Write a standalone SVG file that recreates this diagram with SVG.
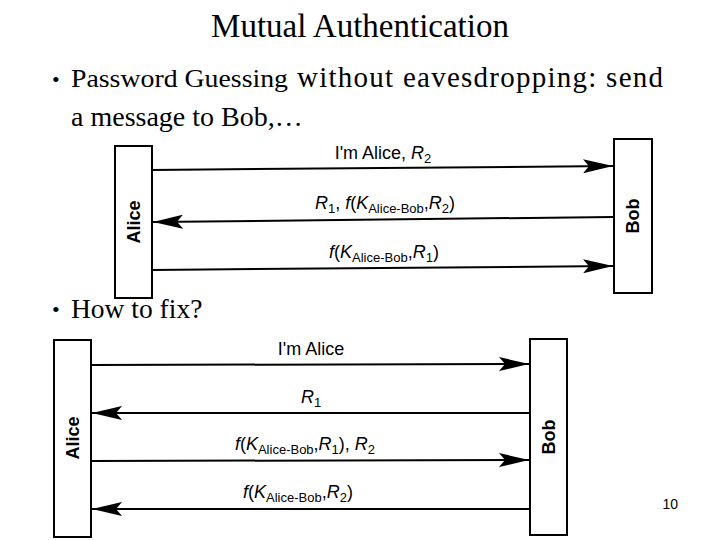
<svg xmlns="http://www.w3.org/2000/svg" width="720" height="540" viewBox="0 0 720 540">
<style>
.t{font-family:"Liberation Serif",serif;fill:#000}
.s{font-family:"Liberation Sans",Arial,sans-serif;fill:#000}
.box{fill:#fff;stroke:#000;stroke-width:2}
.ln{stroke:#000;stroke-width:2;fill:none}
</style>
<defs>
<marker id="ahb" markerWidth="30" markerHeight="14" refX="30" refY="7" orient="auto" markerUnits="userSpaceOnUse" viewBox="0 0 30 14">
<path d="M0,0 L30,7 L0,14 L6,7 Z" fill="#000"/>
</marker>
</defs>
<rect width="720" height="540" fill="#fff"/>
<text class="t" x="360" y="37" font-size="33" text-anchor="middle">Mutual Authentication</text>
<text class="t" x="52" y="87" font-size="22">•</text>
<text class="t" x="71" y="87" font-size="25" textLength="217" lengthAdjust="spacingAndGlyphs">Password Guessing</text>
<text class="t" x="297" y="87" font-size="29" textLength="366" lengthAdjust="spacing">without eavesdropping: send</text>
<text class="t" x="71" y="126" font-size="28">a message to Bob,…</text>
<text class="t" x="52" y="317" font-size="22">•</text>
<text class="t" x="71" y="318" font-size="27.5">How to fix?</text>
<text class="s" x="678" y="509" font-size="14" text-anchor="end">10</text>

<g id="connectors">
<line class="ln" x1="152" y1="170" x2="613" y2="166" marker-end="url(#ahb)"/>
<line class="ln" x1="613" y1="217" x2="153" y2="222" marker-end="url(#ahb)"/>
<line class="ln" x1="152" y1="270" x2="613" y2="266" marker-end="url(#ahb)"/>
<line class="ln" x1="91" y1="365" x2="529" y2="364" marker-end="url(#ahb)"/>
<line class="ln" x1="529" y1="413" x2="92" y2="413" marker-end="url(#ahb)"/>
<line class="ln" x1="91" y1="461" x2="529" y2="460" marker-end="url(#ahb)"/>
<line class="ln" x1="529" y1="509" x2="92" y2="509" marker-end="url(#ahb)"/>
</g>
<g id="labels" class="s" font-size="18" text-anchor="middle">
<text x="383" y="159">I'm Alice, <tspan font-style="italic">R</tspan><tspan font-size="13" dy="4">2</tspan></text>
<text x="385" y="209"><tspan font-style="italic">R</tspan><tspan font-size="13" dy="4">1</tspan><tspan dy="-4">, </tspan><tspan font-style="italic">f</tspan>(<tspan font-style="italic">K</tspan><tspan font-size="13" dy="4">Alice-Bob</tspan><tspan dy="-4">,</tspan><tspan font-style="italic">R</tspan><tspan font-size="13" dy="4">2</tspan><tspan dy="-4">)</tspan></text>
<text x="384" y="258"><tspan font-style="italic">f</tspan>(<tspan font-style="italic">K</tspan><tspan font-size="13" dy="4">Alice-Bob</tspan><tspan dy="-4">,</tspan><tspan font-style="italic">R</tspan><tspan font-size="13" dy="4">1</tspan><tspan dy="-4">)</tspan></text>
<text x="311" y="355">I'm Alice</text>
<text x="311" y="403"><tspan font-style="italic">R</tspan><tspan font-size="13" dy="4">1</tspan></text>
<text x="305" y="450"><tspan font-style="italic">f</tspan>(<tspan font-style="italic">K</tspan><tspan font-size="13" dy="4">Alice-Bob</tspan><tspan dy="-4">,</tspan><tspan font-style="italic">R</tspan><tspan font-size="13" dy="4">1</tspan><tspan dy="-4">), </tspan><tspan font-style="italic">R</tspan><tspan font-size="13" dy="4">2</tspan></text>
<text x="298" y="498"><tspan font-style="italic">f</tspan>(<tspan font-style="italic">K</tspan><tspan font-size="13" dy="4">Alice-Bob</tspan><tspan dy="-4">,</tspan><tspan font-style="italic">R</tspan><tspan font-size="13" dy="4">2</tspan><tspan dy="-4">)</tspan></text>
</g>

<g id="alice1"><rect class="box" x="115" y="146" width="37" height="152"/>
<text class="s" font-size="18" font-weight="bold" text-anchor="middle" transform="translate(140,222) rotate(-90)">Alice</text></g>
<g id="bob1"><rect class="box" x="614" y="139" width="38" height="154"/>
<text class="s" font-size="18" font-weight="bold" text-anchor="middle" transform="translate(639,216) rotate(-90)">Bob</text></g>
<g id="alice2"><rect class="box" x="54" y="340" width="37" height="197"/>
<text class="s" font-size="18" font-weight="bold" text-anchor="middle" transform="translate(79,438) rotate(-90)">Alice</text></g>
<g id="bob2"><rect class="box" x="530" y="339" width="37" height="196"/>
<text class="s" font-size="18" font-weight="bold" text-anchor="middle" transform="translate(555,437) rotate(-90)">Bob</text></g>
</svg>
